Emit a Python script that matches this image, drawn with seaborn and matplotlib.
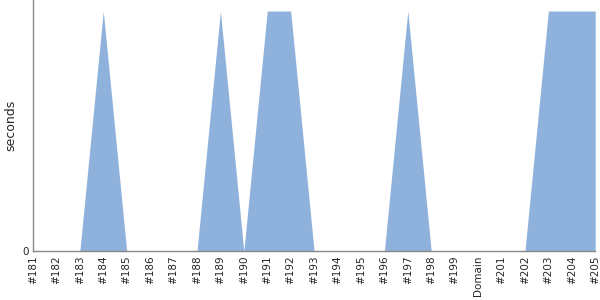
import matplotlib
matplotlib.use("Agg")
import matplotlib.pyplot as plt
import seaborn as sns
import numpy as np
import pandas as pd

labels = ["#181", "#182", "#183", "#184", "#185", "#186", "#187", "#188", "#189", "#190",
          "#191", "#192", "#193", "#194", "#195", "#196", "#197", "#198", "#199", "Domain",
          "#201", "#202", "#203", "#204", "#205"]
seconds = [0, 0, 0, 1, 0, 0, 0, 0, 1, 0,
           1, 1, 0, 0, 0, 0, 1, 0, 0, 0,
           0, 0, 1, 1, 1]

sns.set_style("white")
plt.rcParams['font.family'] = ['DejaVu Sans']

df = pd.DataFrame({"pos": np.arange(len(labels)), "seconds": seconds})

fig = plt.figure(figsize=(6, 3), dpi=100)
ax = fig.add_axes([0.055, 0.163, 0.937, 0.837])
sns.lineplot(data=df, x="pos", y="seconds", ax=ax, color="#8fb2dc", linewidth=0)
ax.fill_between(df["pos"], 0, df["seconds"], color="#8fb2dc", linewidth=0)

ax.set_xlim(0, len(labels) - 1)
ax.set_ylim(0, 1.046)
ax.set_xticks(df["pos"])
ax.set_xticklabels(labels, rotation=90, fontsize=7.5)
ax.set_yticks([0])
ax.set_yticklabels(["0"], fontsize=7.5)
ax.set_xlabel("")
ax.set_ylabel("seconds", fontsize=9)
ax.yaxis.set_label_coords(-0.028, 0.5)
for s in ["top", "right"]:
    ax.spines[s].set_visible(False)
for s in ["left", "bottom"]:
    ax.spines[s].set_color("#888888")
    ax.spines[s].set_linewidth(1)
ax.tick_params(axis="both", length=0, pad=3)

fig.savefig("out.png", dpi=100)
